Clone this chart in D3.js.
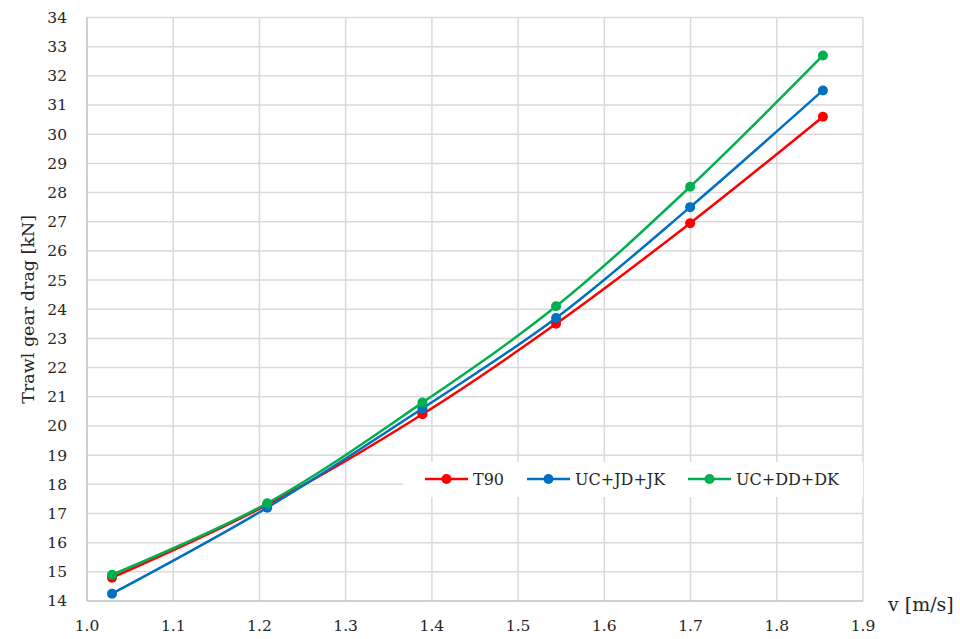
<!DOCTYPE html>
<html>
<head>
<meta charset="utf-8">
<script src="https://cdn.jsdelivr.net/npm/d3@7"></script>
<style>
  body { margin: 0; background: #fff; }
  svg { display: block; font-family: "DejaVu Serif", "Liberation Serif", serif; }
</style>
</head>
<body>
<svg id="chart" width="960" height="639"></svg>
<script>
const speeds = [1.029, 1.209, 1.389, 1.544, 1.6995, 1.8535];
const t90 = [14.8, 17.3, 20.4, 23.5, 26.95, 30.6];
const ucJdJk = [14.25, 17.2, 20.6, 23.7, 27.5, 31.5];
const ucDdDk = [14.9, 17.35, 20.8, 24.1, 28.2, 32.7];
const seriesNames = ["T90", "UC+JD+JK", "UC+DD+DK"];
const seriesColors = ["#ff0000", "#0070c0", "#00b050"];
const xTicks = [1.0, 1.1, 1.2, 1.3, 1.4, 1.5, 1.6, 1.7, 1.8, 1.9];
const yTicks = d3.range(14, 35, 1);

const svg = d3.select("#chart");
const MARGIN = { top: 17.5, left: 87, bottom: 38, right: 97 };
const width = 960, height = 639;

const x = d3.scaleLinear().domain([1.0, 1.9]).range([MARGIN.left, width - MARGIN.right]);
const y = d3.scaleLinear().domain([14, 34]).range([height - MARGIN.bottom, MARGIN.top]);

// grid
svg.append("g")
  .selectAll("line.v")
  .data(xTicks.slice(1))
  .join("line")
  .attr("x1", d => x(d)).attr("x2", d => x(d))
  .attr("y1", y(34)).attr("y2", y(14))
  .attr("stroke", "#d9d9d9").attr("stroke-width", 1.5);

svg.append("g")
  .selectAll("line.h")
  .data(yTicks.slice(1))
  .join("line")
  .attr("x1", x(1.0)).attr("x2", x(1.9))
  .attr("y1", d => y(d)).attr("y2", d => y(d))
  .attr("stroke", "#d9d9d9").attr("stroke-width", 1.5);

// axis lines
svg.append("line")
  .attr("x1", x(1.0)).attr("x2", x(1.0)).attr("y1", y(34)).attr("y2", y(14))
  .attr("stroke", "#bfbfbf").attr("stroke-width", 1.5);
svg.append("line")
  .attr("x1", x(1.0)).attr("x2", x(1.9)).attr("y1", y(14)).attr("y2", y(14))
  .attr("stroke", "#bfbfbf").attr("stroke-width", 1.5);

// tick labels
svg.append("g")
  .selectAll("text")
  .data(yTicks)
  .join("text")
  .attr("x", x(1.0) - 20)
  .attr("y", d => y(d))
  .attr("dy", "0.35em")
  .attr("text-anchor", "end")
  .attr("font-size", 15.5)
  .attr("fill", "#262626")
  .text(d => d);

svg.append("g")
  .selectAll("text")
  .data(xTicks)
  .join("text")
  .attr("x", d => x(d))
  .attr("y", y(14) + 30)
  .attr("text-anchor", "middle")
  .attr("font-size", 15.5)
  .attr("fill", "#262626")
  .text(d => d3.format(".1f")(d));

// axis titles
svg.append("text")
  .attr("x", 888).attr("y", 611)
  .attr("font-size", 19)
  .attr("fill", "#262626")
  .text("v [m/s]");

svg.append("text")
  .attr("transform", `translate(34,${(y(14) + y(34)) / 2}) rotate(-90)`)
  .attr("text-anchor", "middle")
  .attr("font-size", 17.5)
  .attr("fill", "#262626")
  .text("Trawl gear drag [kN]");

// series
const allSeries = [t90, ucJdJk, ucDdDk];
const line = d3.line()
  .x((d, i) => x(speeds[i]))
  .y(d => y(d))
  .curve(d3.curveCatmullRom.alpha(0.5));

allSeries.forEach((vals, s) => {
  const g = svg.append("g");
  g.append("path")
    .attr("d", line(vals))
    .attr("fill", "none")
    .attr("stroke", seriesColors[s])
    .attr("stroke-width", 2.5);
  g.selectAll("circle")
    .data(vals)
    .join("circle")
    .attr("cx", (d, i) => x(speeds[i]))
    .attr("cy", d => y(d))
    .attr("r", 5)
    .attr("fill", seriesColors[s]);
});

// legend
const legend = svg.append("g");
legend.append("rect")
  .attr("x", 403).attr("y", 462).attr("width", 460).attr("height", 35)
  .attr("fill", "#fff");
const legendX = [425, 527, 688];
seriesNames.forEach((name, i) => {
  const lg = legend.append("g").attr("transform", `translate(${legendX[i]},479)`);
  lg.append("line").attr("x1", 0).attr("x2", 43)
    .attr("stroke", seriesColors[i]).attr("stroke-width", 2.5);
  lg.append("circle").attr("cx", 21.5).attr("r", 5).attr("fill", seriesColors[i]);
  lg.append("text").attr("x", 48).attr("dy", "0.35em")
    .attr("font-size", 16).attr("fill", "#262626").text(name);
});
</script>
</body>
</html>
